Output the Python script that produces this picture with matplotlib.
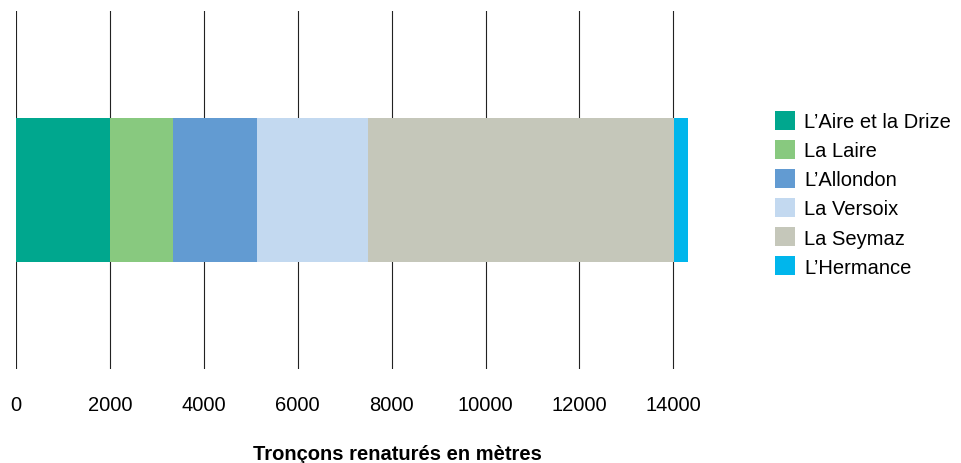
import matplotlib
matplotlib.use("Agg")
import matplotlib.pyplot as plt

# Renatured river sections (metres), stacked in one horizontal bar
rivers = ["L\u2019Aire et la Drize", "La Laire", "L\u2019Allondon",
          "La Versoix", "La Seymaz", "L\u2019Hermance"]
lengths = [2000, 1340, 1790, 2370, 6510, 300]
colors = ["#00A78E", "#88C97F", "#629BD2", "#C3D9F0", "#C5C7BA", "#00B6EC"]
ticks = [0, 2000, 4000, 6000, 8000, 10000, 12000, 14000]
xlabel = "Tron\u00e7ons renatur\u00e9s en m\u00e8tres"

plt.rcParams["font.family"] = ["Liberation Sans", "DejaVu Sans"]

W, H = 961, 464
fig = plt.figure(figsize=(W / 100, H / 100), dpi=100)
ax_left, ax_right = 16, 700
ax_top, ax_bottom = 12, 370
ax = fig.add_axes([ax_left / W, 1 - ax_bottom / H,
                   (ax_right - ax_left) / W, (ax_bottom - ax_top) / H])

xmax = 14000 * (ax_right - ax_left) / (673.3 - ax_left)
ax.set_xlim(0, xmax)
ax.set_ylim(-0.5, 0.5)

left = 0
for name, val, col in zip(rivers, lengths, colors):
    ax.barh(0, val, left=left, height=0.402, color=col, label=name,
            zorder=2, linewidth=0)
    left += val

for t in ticks:
    ax.axvline(t, color="#222222", linewidth=0.8, zorder=1)

ax.set_xticks(ticks)
ax.set_xticklabels([str(t) for t in ticks], fontsize=14.5)
ax.tick_params(axis="x", length=0, pad=19)
ax.set_yticks([])
for s in ax.spines.values():
    s.set_visible(False)

fig.text(397 / W, 1 - 455 / H, xlabel, fontsize=14.5, fontweight="bold",
         ha="center", va="center")

ax.legend(loc="upper left", bbox_to_anchor=(775 / W, 1 - 112 / H),
          bbox_transform=fig.transFigure, frameon=False, fontsize=14.5,
          handlelength=1.0, handleheight=1.05, handletextpad=0.45,
          labelspacing=0.44, borderpad=0, borderaxespad=0)

fig.savefig("out.png", dpi=100)
